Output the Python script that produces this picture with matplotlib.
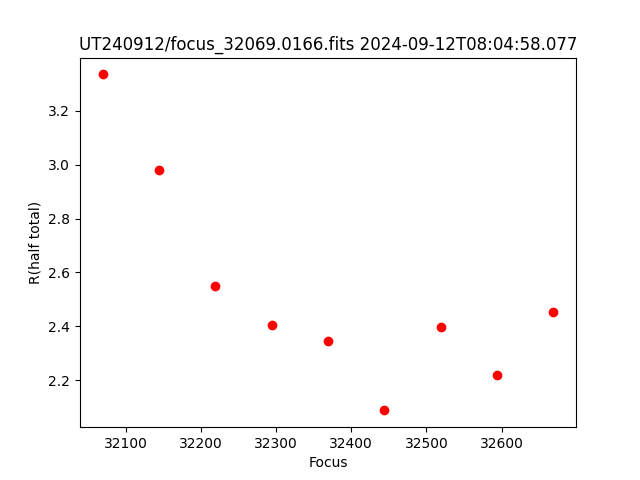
import matplotlib
matplotlib.use("Agg")
import matplotlib.pyplot as plt

# Позиции фокуса и радиус (half total)
focus = [32069, 32144, 32219, 32294, 32369, 32444, 32519, 32594, 32669]
r_half = [3.335, 2.979, 2.548, 2.404, 2.344, 2.088, 2.396, 2.221, 2.452]

title = "UT240912/focus_32069.0166.fits 2024-09-12T08:04:58.077"

fig, ax = plt.subplots(figsize=(6.4, 4.8), dpi=100)
ax.plot(focus, r_half, "ro")
ax.set_title(title)
ax.set_xlabel("Focus")
ax.set_ylabel("R(half total)")
fig.savefig("out.png")
